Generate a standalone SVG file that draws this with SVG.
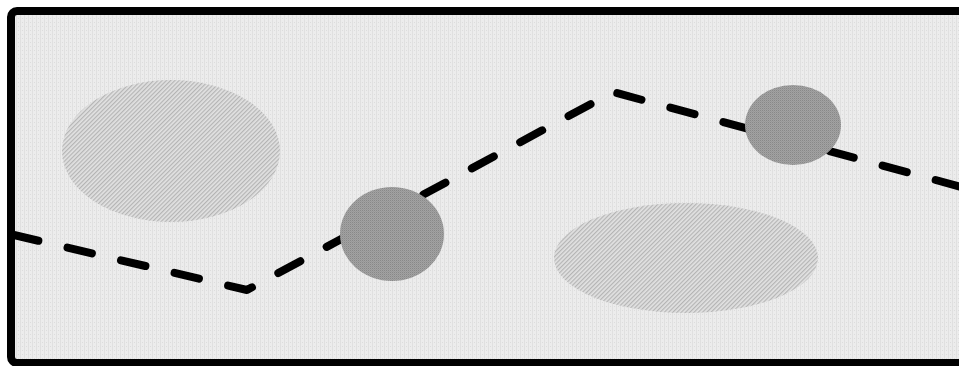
<svg xmlns="http://www.w3.org/2000/svg" width="959" height="366" viewBox="0 0 959 366">
  <defs>
    <pattern id="bg" width="4" height="4" patternUnits="userSpaceOnUse">
      <rect width="4" height="4" fill="#ececec"/>
      <rect x="0" y="0" width="1" height="4" fill="#e0e0e0"/>
      <rect x="2" y="2" width="1" height="1" fill="#dcdcdc"/>
    </pattern>
    <pattern id="hatch" width="3" height="3" patternUnits="userSpaceOnUse" patternTransform="rotate(45)">
      <rect width="3" height="3" fill="#e2e2e2"/>
      <rect x="0" y="0" width="1.2" height="3" fill="#b4b4b4"/>
    </pattern>
    <pattern id="stip" width="2" height="2" patternUnits="userSpaceOnUse">
      <rect width="2" height="2" fill="#a2a2a2"/>
      <rect x="0" y="0" width="1" height="1" fill="#888888"/>
      <rect x="1" y="1" width="1" height="1" fill="#989898"/>
    </pattern>
    <style>
      .frame { fill: url(#bg); stroke: #000; stroke-width: 8; }
      .light { fill: url(#hatch); }
      .dark { fill: url(#stip); }
      .route { fill: none; stroke: #000; stroke-width: 8; stroke-linecap: round; stroke-linejoin: round; stroke-dasharray: 25 30; }
    </style>
  </defs>
  <rect class="frame" x="11" y="11" width="970" height="352" rx="6"/>
  <g id="area1"><ellipse class="light" cx="171" cy="151" rx="109" ry="71"/></g>
  <g id="area2"><ellipse class="light" cx="686" cy="258" rx="132" ry="55"/></g>
  <g id="connectors">
    <path class="route" d="M14,235 L247,290 L613,92 L965,188"/>
  </g>
  <g id="node1"><ellipse class="dark" cx="392" cy="234" rx="52" ry="47"/></g>
  <g id="node2"><ellipse class="dark" cx="793" cy="125" rx="48" ry="40"/></g>
</svg>
